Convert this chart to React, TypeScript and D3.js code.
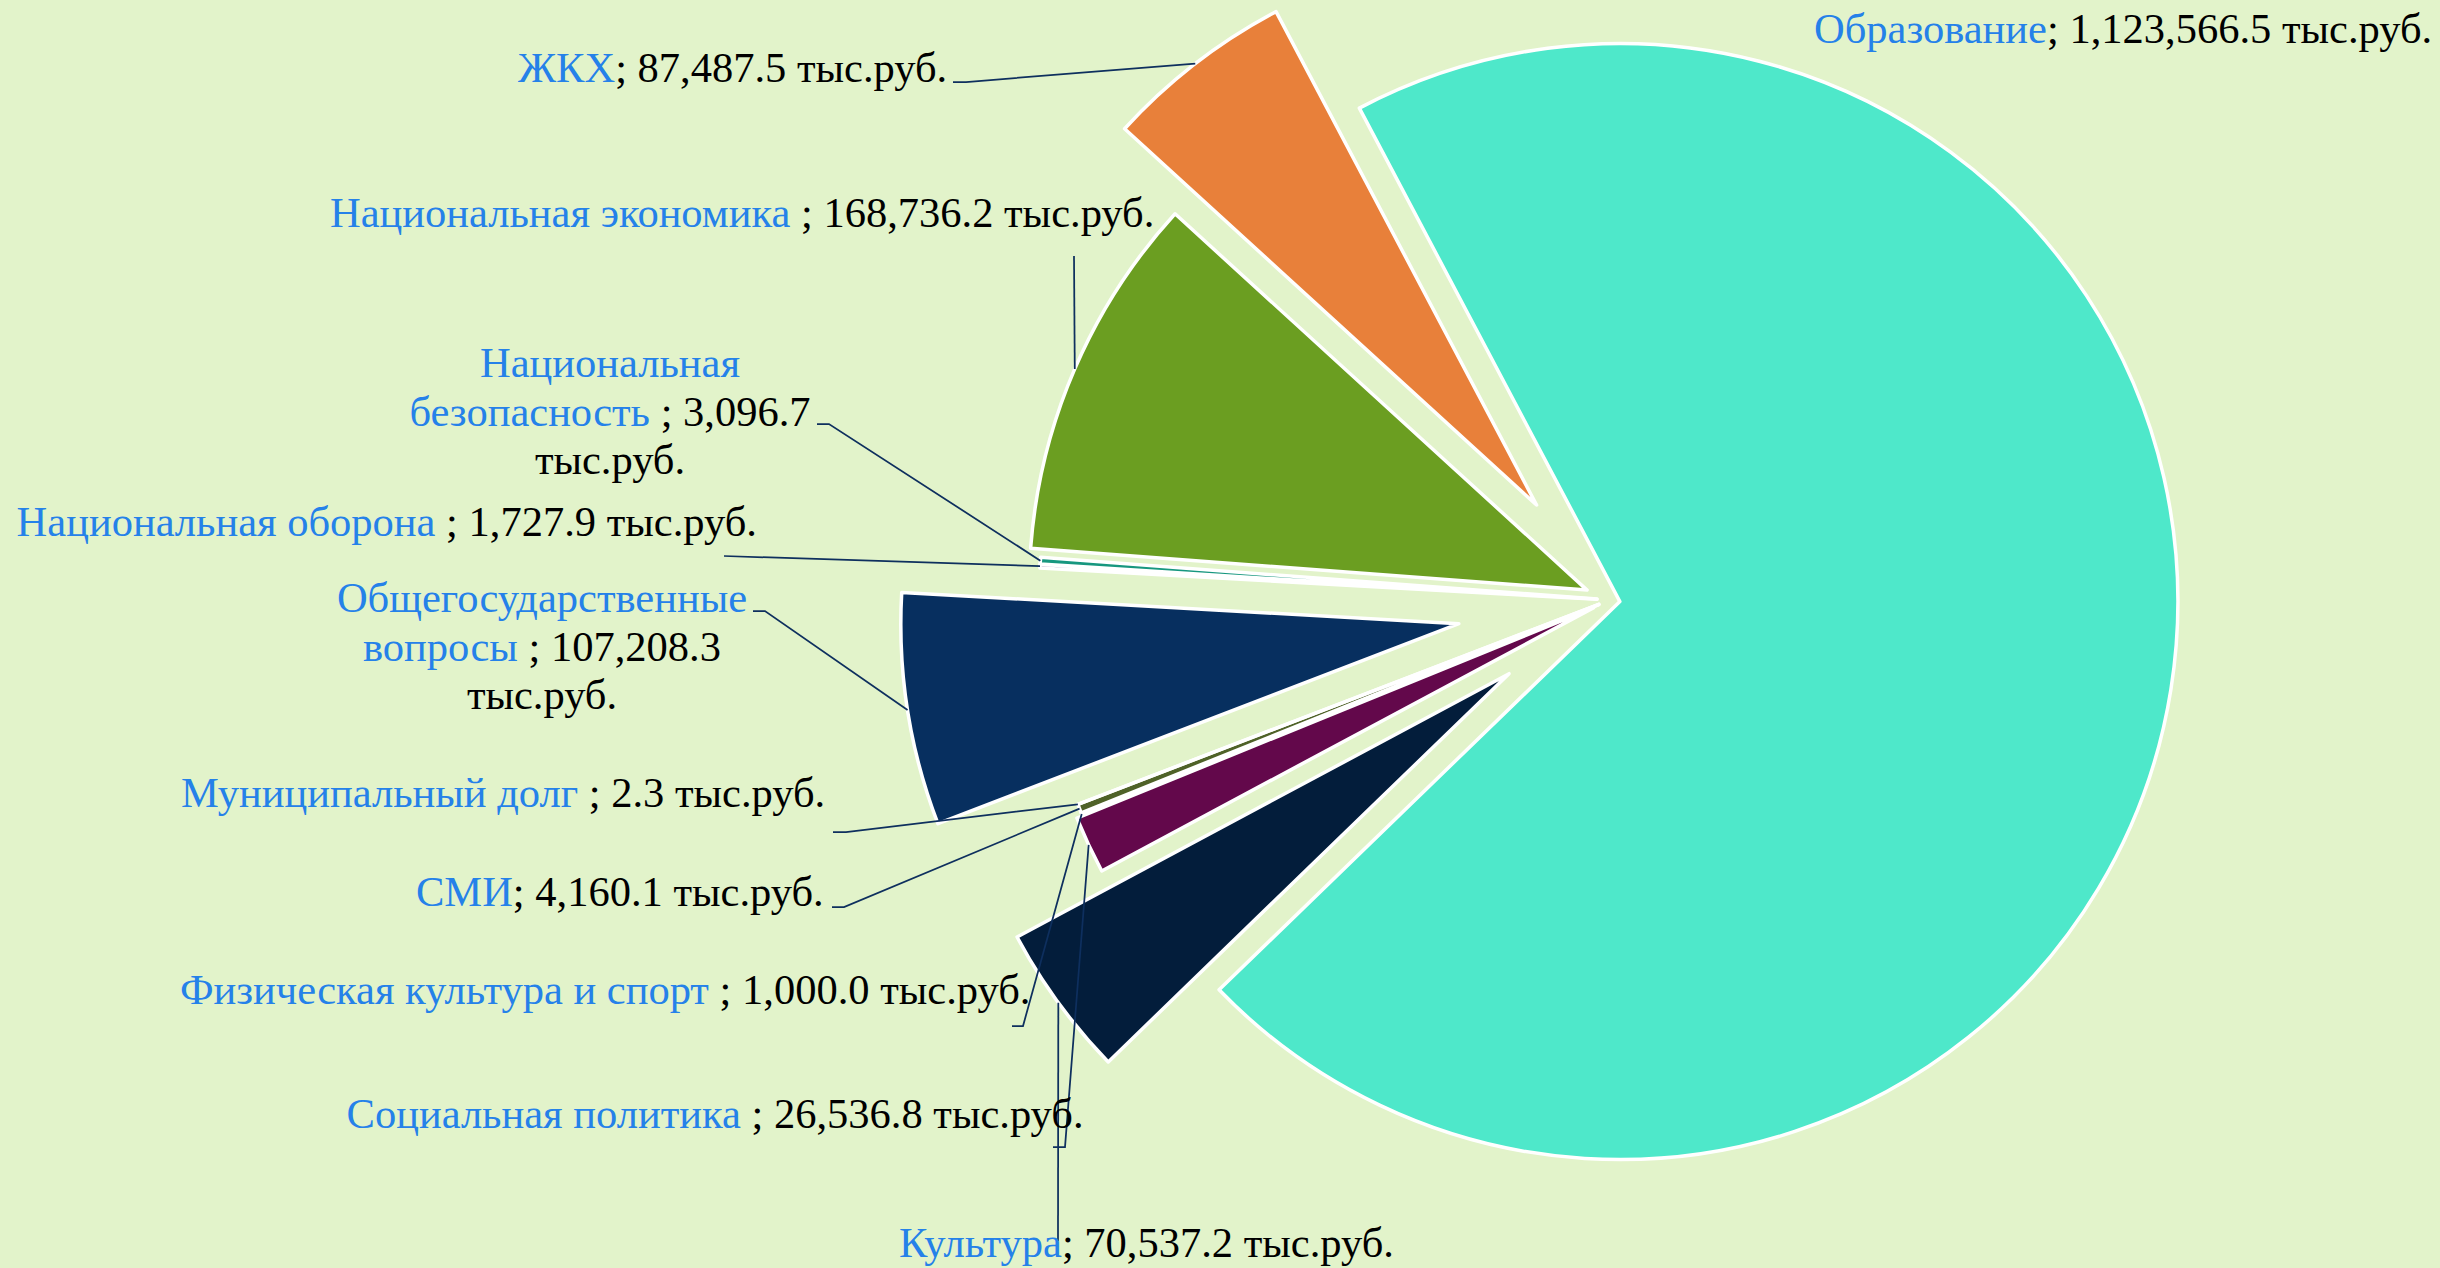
import React from "react";
import * as d3 from "d3";

// ---------- data ----------
const categories: string[] = [
  "Общегосударственные вопросы ",
  "Национальная оборона ",
  "Национальная безопасность ",
  "Национальная экономика ",
  "ЖКХ",
  "Образование",
  "Культура",
  "Социальная политика ",
  "Физическая культура и спорт ",
  "СМИ",
  "Муниципальный долг ",
];
const values: number[] = [
  107208.3, 1727.9, 3096.7, 168736.2, 87487.5, 1123566.5, 70537.2, 26536.8, 1000.0, 4160.1, 2.3,
];
const unitLabel = "тыс.руб.";

// ---------- styles / layout ----------
const sliceColors = [
  "#072F5F", "#8064A2", "#17977F", "#6B9E21", "#E8803A", "#4EE8CA",
  "#031D3B", "#63084B", "#9BBB59", "#4F6228", "#7F7F7F",
];
const W = 2440, H = 1268;
const CX = 1610, CY = 600, R = 558;
const START_DEG = 249;
const explodePx = [153, 13, 13, 25, 120, 10, 125, 18, 12, 12, 12];
const BG = "#E2F3CA";
const NAME_COLOR = "#2581E9";
const TEXT_COLOR = "#000000";
const LEADER_COLOR = "#0E2F5E";
const FONT = "'Liberation Serif', 'Times New Roman', serif";
const FS = 42.5;
const LINE_H = 48.5;

type Lay = { x: number; y: number; anchor: "start" | "middle"; lines?: number[]; leader?: [number, number][] };
const labelLayout: Lay[] = [
  { x: 542, y: 612, anchor: "middle", lines: [1, 3, 1], leader: [[753, 611], [765, 611]] },
  { x: 16.6, y: 536, anchor: "start", leader: [[724, 556]] },
  { x: 610, y: 377, anchor: "middle", lines: [1, 3, 1], leader: [[817, 424], [829, 424]] },
  { x: 330, y: 227, anchor: "start", leader: [[1074, 256]] },
  { x: 518, y: 82, anchor: "start", leader: [[953, 82], [966, 82]] },
  { x: 1814, y: 43, anchor: "start" },
  { x: 899, y: 1257, anchor: "start", leader: [[1058, 1241]] },
  { x: 346.6, y: 1128, anchor: "start", leader: [[1053, 1147], [1065, 1147]] },
  { x: 180, y: 1004, anchor: "start", leader: [[1012, 1026], [1023, 1026]] },
  { x: 416, y: 905.5, anchor: "start", leader: [[832, 907], [844, 907]] },
  { x: 181, y: 807, anchor: "start", leader: [[833, 832], [846, 832]] },
];

const fmt = d3.format(",.1f");

function labelLines(i: number) {
  const name = categories[i];
  const full = `${name}; ${fmt(values[i])} ${unitLabel}`;
  const blueEnd = name.trimEnd().length;
  const words: { s: number; e: number }[] = [];
  const re = /\S+/g;
  let m: RegExpExecArray | null;
  while ((m = re.exec(full))) words.push({ s: m.index, e: m.index + m[0].length });
  const counts = labelLayout[i].lines ?? [words.length];
  let wi = 0;
  return counts.map((c) => {
    const ws = words.slice(wi, wi + c);
    wi += c;
    const s = ws[0].s, e = ws[ws.length - 1].e;
    const blue = s < blueEnd ? full.slice(s, Math.min(e, blueEnd)) : "";
    const black = e > blueEnd ? full.slice(Math.max(s, blueEnd), e) : "";
    return { blue, black };
  });
}

export default function App() {
  const toRad = Math.PI / 180;
  const pie = d3
    .pie<number>()
    .sort(null)
    .value((d) => d)
    .startAngle(START_DEG * toRad)
    .endAngle((START_DEG + 360) * toRad);
  const arcs = pie(values);
  const arcGen = d3.arc<d3.PieArcDatum<number>>().innerRadius(0).outerRadius(R);
  const lineGen = d3.line();

  const geo = arcs.map((a, i) => {
    const mid = (a.startAngle + a.endAngle) / 2;
    const ux = Math.sin(mid), uy = -Math.cos(mid);
    const ox = CX + explodePx[i] * ux, oy = CY + explodePx[i] * uy;
    return { a, ox, oy, px: ox + R * ux, py: oy + R * uy };
  });

  return (
    <svg
      width={W}
      height={H}
      style={{ position: "absolute", left: 0, top: 0, display: "block" }}
    >
      <rect x={0} y={0} width={W} height={H} fill={BG} />
      {geo.map((g, i) => (
        <path
          key={"s" + i}
          d={arcGen(g.a) || ""}
          transform={`translate(${g.ox},${g.oy})`}
          fill={sliceColors[i]}
          stroke="#FFFFFF"
          strokeWidth={3.5}
          strokeLinejoin="round"
        />
      ))}
      {geo.map((g, i) => {
        const lay = labelLayout[i];
        if (!lay.leader) return null;
        const pts: [number, number][] = [...lay.leader, [g.px, g.py]];
        return (
          <path key={"l" + i} d={lineGen(pts) || ""} fill="none" stroke={LEADER_COLOR} strokeWidth={1.75} />
        );
      })}
      {categories.map((_, i) => {
        const lay = labelLayout[i];
        return labelLines(i).map((ln, k) => (
          <text
            key={`t${i}-${k}`}
            x={lay.x}
            y={lay.y + k * LINE_H}
            textAnchor={lay.anchor}
            fontFamily={FONT}
            fontSize={FS}
            style={{ whiteSpace: "pre" }}
          >
            {ln.blue && <tspan fill={NAME_COLOR}>{ln.blue}</tspan>}
            {ln.black && <tspan fill={TEXT_COLOR}>{ln.black}</tspan>}
          </text>
        ));
      })}
    </svg>
  );
}
